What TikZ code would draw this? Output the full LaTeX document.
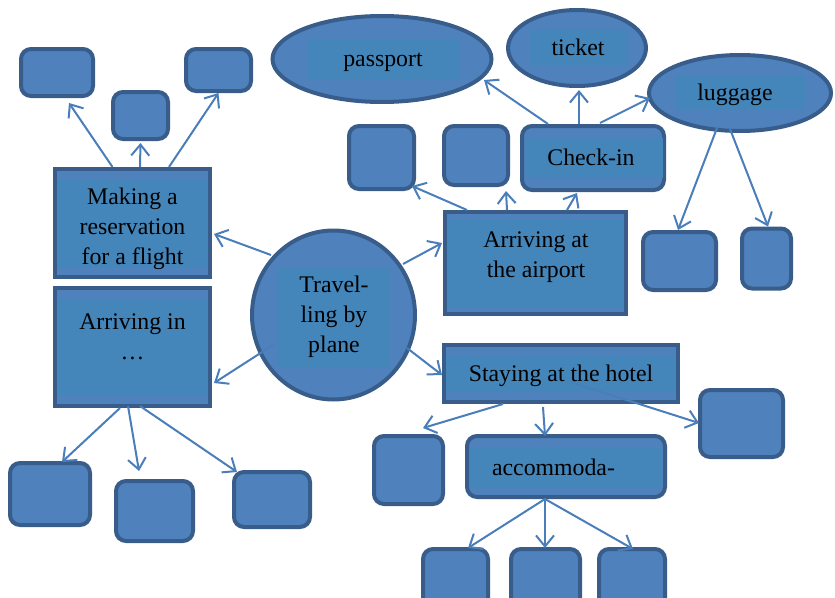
\documentclass[tikz,border=0pt]{standalone}
\usepackage{fontspec}
\setmainfont{Liberation Serif}
\usetikzlibrary{arrows.meta,calc,shapes.geometric}
\definecolor{bfill}{HTML}{4F81BD}
\definecolor{bline}{HTML}{385D8A}
\definecolor{binner}{HTML}{4485BA}
\definecolor{barrow}{HTML}{4A7EBB}
\begin{document}
\begin{tikzpicture}[x=1pt,y=-1pt,
 rbox/.style={draw=bline,fill=bfill,line width=4pt,rounded corners=10pt,inner sep=0pt},
 sbox/.style={draw=bline,fill=bfill,line width=4pt,inner sep=0pt},
 ell/.style={ellipse,draw=bline,fill=bfill,line width=4pt,inner sep=0pt},
 inbox/.style={fill=binner,inner sep=0pt},
 txt/.style={font=\fontsize{23.8}{30}\selectfont,text=black,inner sep=0pt,text height=16.4pt,text depth=5.2pt,yshift=-3pt},
 mtxt/.style={font=\fontsize{23.8}{30}\selectfont,text=black,inner sep=0pt,align=center,yshift=-3pt},
 arr/.style={draw=barrow,line width=2pt,-{Straight Barb[length=11pt,width=18pt]}}]
\useasboundingbox (0,0) rectangle (835,597);
\clip (0,0) rectangle (835,597);

% left top group
\node[rbox,minimum width=72,minimum height=47] (A1) at (57,72.5) {};
\node[rbox,minimum width=55,minimum height=47] (A2) at (140.5,115.5) {};
\node[rbox,minimum width=65,minimum height=42] (A3) at (218.5,70) {};
\node[sbox,minimum width=155,minimum height=108] (res) at (132.5,223) {};
\node[inbox,minimum width=151,minimum height=88] (resi) at (132.5,223) {};
\node[mtxt] (rest) at (132.5,226) {Making a\\reservation\\for a flight};

% arriving in
\node[sbox,minimum width=155,minimum height=118] (arrin) at (132.5,347) {};
\node[inbox,minimum width=150,minimum height=96] (arrini) at (132.5,347) {};
\node[mtxt] (arrint) at (132.5,334) {Arriving in\\…};
\node[rbox,minimum width=80,minimum height=62] (B1) at (50,494) {};
\node[rbox,minimum width=77,minimum height=60] (B2) at (154.5,511) {};
\node[rbox,minimum width=76,minimum height=55] (B3) at (272,499.5) {};

% centre
\node[ell,minimum width=163,minimum height=169] (plane) at (333.5,315) {};
\node[inbox,minimum width=113,minimum height=99] (planei) at (333.5,317.5) {};
\node[mtxt] (planet) at (334,314) {Travel-\\ling by\\plane};

% airport
\node[sbox,minimum width=181,minimum height=102] (airport) at (535.5,263) {};
\node[inbox,minimum width=177,minimum height=88] (airporti) at (535.5,263) {};
\node[mtxt] (airportt) at (536,254.5) {Arriving at\\the airport};

\node[rbox,minimum width=142,minimum height=64] (checkin) at (593,158) {};
\node[inbox,minimum width=138,minimum height=40] (checkini) at (594,158) {};
\node[txt] (checkint) at (591,157) {Check-in};
\node[rbox,minimum width=65,minimum height=63] (S1) at (381.5,157.5) {};
\node[rbox,minimum width=64,minimum height=59] (S2) at (476,155.5) {};

\node[ell,minimum width=219,minimum height=86] (passport) at (382,59) {};
\node[inbox,minimum width=152,minimum height=39] (passporti) at (383,59.5) {};
\node[txt] (passportt) at (383,58) {passport};

\node[ell,minimum width=138,minimum height=76] (ticket) at (577,48) {};
\node[inbox,minimum width=97,minimum height=35] (ticketi) at (578.5,47.5) {};
\node[txt] (tickett) at (578,47) {ticket};

\node[ell,minimum width=182,minimum height=76] (luggage) at (740,93) {};
\node[inbox,minimum width=130,minimum height=35] (luggagei) at (740,92.5) {};
\node[txt] (luggaget) at (735,92) {luggage};

\node[rbox,minimum width=73,minimum height=58] (R1) at (679.5,261) {};
\node[rbox,minimum width=49,minimum height=60] (R2) at (766.5,258.5) {};

% hotel
\node[sbox,minimum width=234,minimum height=57] (hotel) at (561,373.5) {};
\node[inbox,minimum width=229,minimum height=37] (hoteli) at (560.5,373.5) {};
\node[txt] (hotelt) at (561,373) {Staying at the hotel};
\node[rbox,minimum width=69,minimum height=68] (H1) at (408.5,470) {};
\node[rbox,minimum width=83,minimum height=67] (H3) at (741.5,423.5) {};
\node[rbox,minimum width=198,minimum height=61] (acc) at (566,466.5) {};
\node[inbox,minimum width=192,minimum height=39] (acci) at (566,467.5) {};
\node[txt] (acct) at (553.5,467) {accommoda-};
\node[rbox,minimum width=65,minimum height=66] (C1) at (455.5,582) {};
\node[rbox,minimum width=69,minimum height=66] (C2) at (545.5,582) {};
\node[rbox,minimum width=66,minimum height=66] (C3) at (632,582) {};

% connectors
\draw[arr] ($(res.north)+(-20,0)$) -- ($(A1.south)+(12,5)$);
\draw[arr] ($(res.north)+(7.5,0)$) -- ($(A2.south)+(0,2)$);
\draw[arr] ($(res.north)+(36.5,0)$) -- (A3.south);
\draw[arr] ($(plane.center)+(-62.5,-60)$) -- ($(res.east)+(2,11)$);
\draw[arr] ($(plane.center)+(-60.5,30)$) -- ($(arrin.east)+(2,36)$);
\draw[arr] ($(plane.center)+(69.5,-51)$) -- ($(airport.west)+(-1,-20)$);
\draw[arr] ($(plane.center)+(73.5,33)$) -- ($(hotel.west)+(0,1.5)$);

\draw[arr] ($(arrin.south)+(-12.5,0)$) -- ($(B1.north)+(12,1)$);
\draw[arr] ($(arrin.south)+(-4.5,-2)$) -- ($(B2.north)+(-15.5,-8)$);
\draw[arr] ($(arrin.south)+(7.5,-2)$) -- ($(B3.north)+(-35,2)$);

\draw[arr] ($(airport.north)+(-68.5,0)$) -- ($(S1.south east)+(-4,-5)$);
\draw[arr] ($(airport.north)+(-28.5,0)$) -- ($(S2.south)+(30,4)$);
\draw[arr] ($(airport.north)+(31.5,0)$) -- ($(checkin.south)+(-16,1)$);

\draw[arr] ($(checkin.north)+(-45,0)$) -- ($(passport.center)+(102,21)$);
\draw[arr] ($(checkin.north)+(-14,0)$) -- ($(ticket.south)+(2,2)$);
\draw[arr] ($(checkin.north)+(7,-1)$) -- ($(luggage.west)+(3,5)$);
\draw[arr] ($(luggage.center)+(-23,35)$) -- ($(R1.north)+(-1.5,0)$);
\draw[arr] ($(luggage.center)+(-10,36)$) -- ($(R2.north)+(1.5,0)$);

\draw[arr] ($(hotel.south)+(-58,0)$) -- ($(H1.north)+(14.5,-6)$);
\draw[arr] ($(hotel.south)+(-18,3)$) -- ($(acc.north)+(-21,2)$);
\draw[arr] ($(hotel.center)+(9,8.5)$) -- ($(H3.west)+(1,-0.5)$);

\draw[arr] ($(acc.south)+(-21,0)$) -- ($(C1.north)+(12.5,1)$);
\draw[arr] ($(acc.south)+(-21,0)$) -- ($(C2.north)+(-0.5,1)$);
\draw[arr] ($(acc.south)+(-21,0)$) -- ($(C3.north)+(1,2)$);
\end{tikzpicture}
\end{document}
